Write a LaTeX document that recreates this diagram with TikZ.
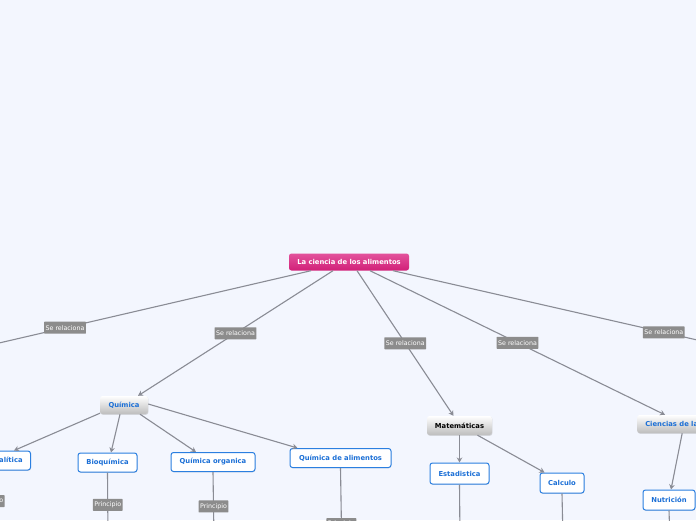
\documentclass[tikz,border=0pt]{standalone}
\usepackage{fontspec}
\setmainfont{DejaVu Sans}
\usetikzlibrary{arrows.meta,shadows}
\definecolor{bg}{HTML}{F3F6FE}
\definecolor{ln}{HTML}{8A8C95}
\definecolor{lblc}{HTML}{8C8C8C}
\definecolor{blu}{HTML}{2B7FE0}
\definecolor{btxt}{HTML}{1B6FD6}
\definecolor{pinktop}{HTML}{E2529C}
\definecolor{pinkbot}{HTML}{D21F78}
\definecolor{graybot}{HTML}{BDBDBD}
\begin{document}
\begin{tikzpicture}[x=1pt,y=-1pt,
  conn/.style={draw=ln, line width=1.1pt},
  arr/.style={conn, -{Stealth[length=5pt,width=5.5pt]}},
  lbl/.style={fill=lblc, text=white, font=\fontsize{6.3}{7}\selectfont, inner sep=1.5pt, minimum height=12pt, rounded corners=0.6pt},
  rootbox/.style={top color=pinktop, bottom color=pinkbot, draw=none, text=white, font=\fontsize{6.8}{8}\bfseries\selectfont, rounded corners=2.5pt, minimum height=17pt, inner sep=1pt},
  graybox/.style={top color=white, bottom color=graybot, draw=none, font=\fontsize{6.8}{8}\bfseries\selectfont, rounded corners=2.5pt, inner sep=1pt, drop shadow={shadow xshift=0.4pt, shadow yshift=-0.8pt, opacity=0.25}},
  whitebox/.style={fill=white, draw=blu, line width=1pt, text=btxt, font=\fontsize{6.8}{8}\bfseries\selectfont, rounded corners=2.5pt, inner sep=1pt, minimum height=19pt, drop shadow={shadow xshift=0.4pt, shadow yshift=-0.8pt, opacity=0.2}}
]
\useasboundingbox (0,0) rectangle (696,520);
\fill[bg] (0,0) rectangle (696,520);
\clip (0,0) rectangle (696,520);

% nodes
\node[rootbox, minimum width=120pt] (root) at (349,262) {La ciencia de los alimentos};
\node[graybox, text=btxt, minimum width=48pt, minimum height=18pt] (quim) at (124,405) {Química};
\node[graybox, text=black, minimum width=65pt, minimum height=19pt] (mat) at (459.5,425.5) {Matemáticas};
\node[graybox, text=btxt, minimum width=69pt, minimum height=18pt, anchor=west] (cien) at (637,424) {Ciencias de la};

\node[whitebox, minimum width=82pt, anchor=east] (ana) at (31,460.5) {Química analítica};
\node[whitebox, minimum width=59pt] (bio) at (107.5,462.5) {Bioquímica};
\node[whitebox, minimum width=84pt] (org) at (213,462) {Química organica};
\node[whitebox, minimum width=101pt] (ali) at (340.5,458) {Química de alimentos};
\node[whitebox, minimum width=59pt, minimum height=21pt] (est) at (459.5,473.5) {Estadistica};
\node[whitebox, minimum width=44pt, minimum height=20pt] (cal) at (562,483) {Calculo};
\node[whitebox, minimum width=52pt, minimum height=20pt] (nut) at (669,500) {Nutrición};

% off-picture ends
\coordinate (offL) at (-60,356.7);
\coordinate (offR) at (760,354.3);
\coordinate (dAna) at (-10,540);
\coordinate (dBio) at (108,540);
\coordinate (dOrg) at (214,540);
\coordinate (dAli) at (342,560);
\coordinate (dEst) at (460,540);
\coordinate (dCal) at (563,540);
\coordinate (dNut) at (670,540);

% connectors from root
\draw[conn] ([xshift=-38pt]root.south) -- node[lbl, pos=0.663]{Se relaciona} (offL);
\draw[arr] ([xshift=-16pt]root.south) -- node[lbl, pos=0.5]{Se relaciona} ([xshift=14pt]quim.north);
\draw[arr] ([xshift=8pt]root.south) -- node[lbl, pos=0.5]{Se relaciona} ([xshift=-6pt]mat.north);
\draw[arr] ([xshift=21pt]root.south) -- node[lbl, pos=0.5]{Se relaciona} ([xshift=28pt]cien.north west);
\draw[conn] ([xshift=44pt]root.south) -- node[lbl, pos=0.738]{Se relaciona} (offR);

% Química children
\draw[arr] ([xshift=-24pt,yshift=1pt]quim.south) -- ([xshift=-17pt]ana.north east);
\draw[arr] ([xshift=-4pt]quim.south) -- ([xshift=3.5pt]bio.north);
\draw[arr] ([xshift=16pt]quim.south) -- ([xshift=-17pt]org.north);
\draw[arr] ([yshift=1pt]quim.east) -- ([xshift=8pt]ali.north west);

% Matemáticas children
\draw[arr] (mat.south) -- (est.north);
\draw[arr] ([xshift=18pt]mat.south) -- ([xshift=5pt]cal.north west);

% Ciencias child
\draw[arr] ([xshift=10.5pt]cien.south) -- ([xshift=2pt]nut.north);

% downward connectors
\draw[conn] (ana.south) -- node[lbl, pos=0.44]{Principio} (dAna);
\draw[conn] (bio.south) -- node[lbl, pos=0.48]{Principio} (dBio);
\draw[conn] (org.south) -- node[lbl, pos=0.507]{Principio} (dOrg);
\draw[conn] (ali.south) -- node[lbl, pos=0.609]{Principio} (dAli);
\draw[conn] (est.south) -- (dEst);
\draw[conn] (cal.south) -- (dCal);
\draw[conn] (nut.south) -- (dNut);
\end{tikzpicture}
\end{document}
